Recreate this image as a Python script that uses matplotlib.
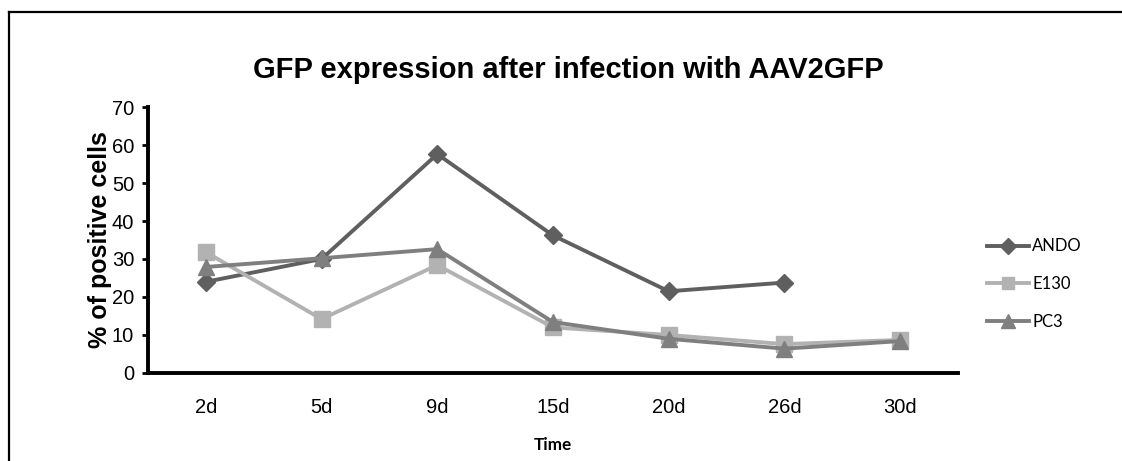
import matplotlib
matplotlib.use("Agg")
import matplotlib.pyplot as plt
from matplotlib.lines import Line2D

categories = ["2d", "5d", "9d", "15d", "20d", "26d", "30d"]
ando = [24.0, 30.0, 57.6, 36.2, 21.5, 23.8, None]
e130 = [31.8, 14.2, 28.4, 12.0, 10.0, 7.6, 8.7]
pc3 = [27.9, 30.2, 32.6, 13.4, 9.0, 6.4, 8.4]
series_names = ["ANDO", "E130", "PC3"]

fig = plt.figure(figsize=(11.22, 4.61), dpi=100)
ax = fig.add_axes([148/1122, 1-373/461, 810/1122, 266/461])

x = list(range(len(categories)))
styles = [
    dict(color="#5f5f5f", marker="D", markersize=9.5),
    dict(color="#b2b2b2", marker="s", markersize=11),
    dict(color="#7f7f7f", marker="^", markersize=12),
]
handles = []
for name, vals, st in zip(series_names, [ando, e130, pc3], styles):
    xs = [xi for xi, v in zip(x, vals) if v is not None]
    ys = [v for v in vals if v is not None]
    h, = ax.plot(xs, ys, lw=2.8, color=st["color"], marker=st["marker"],
                 markersize=st["markersize"], markeredgecolor=st["color"],
                 label=name, zorder=3)
    handles.append(h)

ax.set_xlim(-0.5, len(categories) - 0.5)
ax.set_ylim(0, 70)
ax.set_yticks(range(0, 71, 10))
ax.set_xticks(x)
ax.set_xticklabels(categories)
for s in ["top", "right"]:
    ax.spines[s].set_visible(False)
for s in ["left", "bottom"]:
    ax.spines[s].set_linewidth(2.8)
    ax.spines[s].set_color("black")
ax.tick_params(axis="y", length=4, width=2, labelsize=14.5, pad=6)
ax.tick_params(axis="x", length=0, labelsize=14.5, pad=18)
for lab in ax.get_xticklabels() + ax.get_yticklabels():
    lab.set_fontfamily("Liberation Sans")

fig.text(100/1122, 1-240/461, "% of positive cells", rotation=90,
         ha="center", va="center", fontsize=18, fontweight="bold",
         fontfamily="Liberation Sans")
fig.text(553/1122, 1-445/461, "Time", ha="center", va="center",
         fontsize=12.3, fontweight="bold", fontfamily="Lato")

fig.text(568/1122, 1-78/461, "GFP expression after infection with AAV2GFP",
         ha="center", va="baseline", fontsize=21, fontweight="bold",
         fontfamily="Liberation Sans")

leg = fig.legend(handles=handles, loc="center left",
                 bbox_to_anchor=(987/1122, 1-284/461), frameon=False,
                 prop={"family": "Lato", "size": 12}, handlelength=2.5,
                 handletextpad=0.2, labelspacing=1.3, markerscale=0.85,
                 borderaxespad=0, borderpad=0)

# outer chart frame
fig.add_artist(Line2D([9/1122, 9/1122], [0, 1-12/461], transform=fig.transFigure,
                      color="black", lw=1.6))
fig.add_artist(Line2D([9/1122, 1], [1-12/461, 1-12/461], transform=fig.transFigure,
                      color="black", lw=1.6))

fig.savefig("out.png", dpi=100, facecolor="white")
